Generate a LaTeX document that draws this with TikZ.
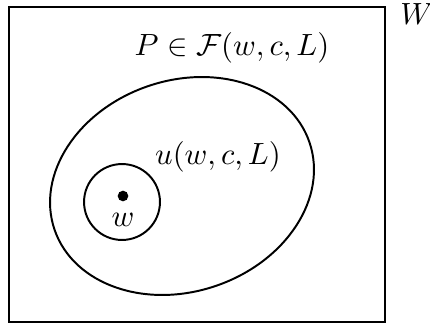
\documentclass[tikz,border=0pt]{standalone}
\usepackage{amsmath,amssymb}
\usetikzlibrary{positioning,shapes.geometric}
\tikzset{
  region/.style={draw,line width=0.7pt,inner sep=0pt,outer sep=0pt},
  pt/.style={circle,fill,inner sep=0pt,minimum size=3.8pt},
  lbl/.style={inner sep=1pt,font=\fontsize{11.2}{13}\selectfont},
}

\begin{document}
\begin{tikzpicture}[x=0.357pt,y=0.357pt]
  \useasboundingbox (0,0) rectangle (430,327);
  % the space W
  \node[region,rectangle,minimum width=134.2pt,minimum height=112.5pt] (space) at (197,162.5) {};
  \node[lbl,anchor=north west] (Wlbl) at (397,327) {$W$};
  % the set u and the neighbourhood of w
  \node[region,ellipse,minimum width=96.2pt,minimum height=75.3pt,rotate=19] (uset) at (182,141) {};
  \node[region,circle,minimum size=27.1pt] (ball) at (122,125) {};
  \node[pt] (w) at (123,131) {};
  \node[lbl,below=3pt of w] (wlbl) {$w$};
  \node[lbl] (ulbl) at (218,170) {$u(w,c,L)$};
  \node[lbl] (Plbl) at (232,279) {$P\in\mathcal{F}(w,c,L)$};
\end{tikzpicture}
\end{document}
